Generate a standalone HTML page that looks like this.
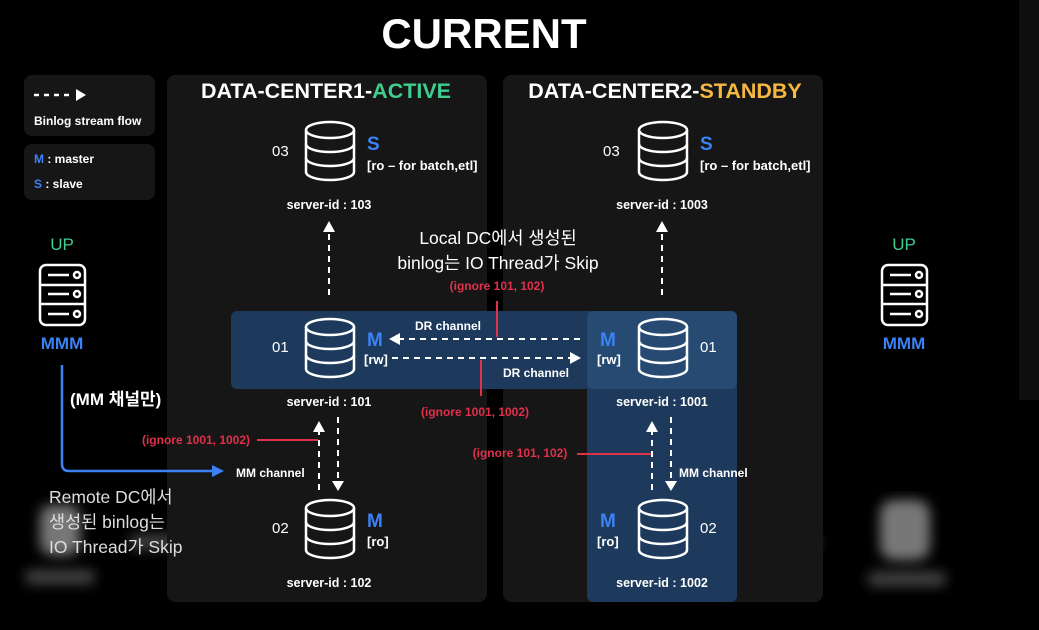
<!DOCTYPE html>
<html><head><meta charset="utf-8"><style>
html,body{margin:0;padding:0;background:#000;}
svg{display:block;font-family:"Liberation Sans","Noto Sans CJK KR",sans-serif;}
</style></head><body>
<svg width="1039" height="630" viewBox="0 0 1039 630" xmlns="http://www.w3.org/2000/svg">
<defs>
<g id="db" fill="none" stroke="#fff" stroke-width="2.5">
<ellipse cx="25" cy="9" rx="24" ry="8"/>
<path d="M1 9 V51 A24 8 0 0 0 49 51 V9"/>
<path d="M1 23 A24 8 0 0 0 49 23"/>
<path d="M1 37 A24 8 0 0 0 49 37"/>
</g>
<g id="srv" fill="none" stroke="#fff" stroke-width="2.5">
<rect x="1" y="1" width="45" height="60" rx="6"/>
<line x1="1" y1="21" x2="46" y2="21"/><line x1="1" y1="40" x2="46" y2="40"/>
<line x1="9" y1="11" x2="30" y2="11"/><circle cx="38" cy="11" r="3"/>
<line x1="9" y1="30" x2="30" y2="30"/><circle cx="38" cy="30" r="3"/>
<line x1="9" y1="50" x2="30" y2="50"/><circle cx="38" cy="50" r="3"/>
</g>
<filter id="bl"><feGaussianBlur stdDeviation="6"/></filter>
</defs>
<rect width="1039" height="630" fill="#000"/>
<rect x="1019" y="0" width="20" height="400" fill="#0e0e0e"/>
<g filter="url(#bl)" fill="#777">
<rect x="40" y="505" width="40" height="50" rx="12"/><rect x="25" y="570" width="70" height="14" rx="6" fill="#444"/>
<rect x="130" y="535" width="80" height="14" rx="6" fill="#444"/>
<rect x="880" y="500" width="50" height="60" rx="14"/><rect x="868" y="572" width="78" height="14" rx="6" fill="#444"/>
<rect x="750" y="536" width="70" height="14" rx="6" fill="#333"/>
</g>
<rect x="167" y="75" width="320" height="527" rx="8" fill="#161616"/>
<rect x="503" y="75" width="320" height="527" rx="8" fill="#161616"/>
<rect x="24" y="75" width="131" height="61" rx="8" fill="#161616"/>
<rect x="24" y="144" width="131" height="56" rx="8" fill="#161616"/>
<rect x="231" y="311" width="506" height="78" rx="6" fill="#1d3a5c"/>
<rect x="587" y="311" width="150" height="291" rx="6" fill="#1d3a5c"/>
<rect x="587" y="311" width="150" height="78" rx="6" fill="#264a72"/>
<text x="484" y="48" fill="#fff" font-size="42" font-weight="bold" text-anchor="middle">CURRENT</text>
<g stroke="#fff" stroke-width="2.5" stroke-dasharray="5,5"><line x1="34" y1="95" x2="74" y2="95"/></g>
<path d="M76 89 L86 95 L76 101Z" fill="#fff"/>
<text x="34" y="125" fill="#fff" font-size="12" font-weight="bold">Binlog stream flow</text>
<text x="34" y="163" font-size="12" font-weight="bold" fill="#fff"><tspan fill="#3b82f6">M</tspan> : master</text>
<text x="34" y="188" font-size="12" font-weight="bold" fill="#fff"><tspan fill="#3b82f6">S</tspan> : slave</text>
<text x="62" y="250" fill="#3ecf8e" font-size="17" text-anchor="middle">UP</text>
<use href="#srv" x="39" y="264"/>
<text x="62" y="349" fill="#3b82f6" font-size="17" font-weight="bold" text-anchor="middle">MMM</text>
<text x="904" y="250" fill="#3ecf8e" font-size="17" text-anchor="middle">UP</text>
<use href="#srv" x="881" y="264"/>
<text x="904" y="349" fill="#3b82f6" font-size="17" font-weight="bold" text-anchor="middle">MMM</text>
<path d="M62 365 V464 Q62 471 69 471 H214" fill="none" stroke="#3b82f6" stroke-width="2.5"/>
<path d="M212 465 L224 471 L212 477Z" fill="#3b82f6"/>
<text x="70" y="405" fill="#fff" font-size="17" font-weight="bold">(MM 채널만)</text>
<text x="49" y="503" fill="#ddd" font-size="17.5">Remote DC에서</text>
<text x="49" y="528" fill="#ddd" font-size="17.5">생성된 binlog는</text>
<text x="49" y="553" fill="#ddd" font-size="17.5">IO Thread가 Skip</text>
<text x="326" y="98" font-size="21.5" font-weight="bold" fill="#fff" text-anchor="middle">DATA-CENTER1-<tspan fill="#3ecf8e">ACTIVE</tspan></text>
<text x="665" y="98" font-size="21.5" font-weight="bold" fill="#fff" text-anchor="middle">DATA-CENTER2-<tspan fill="#f5b942">STANDBY</tspan></text>
<use href="#db" x="305" y="121"/><use href="#db" x="638" y="121"/>
<use href="#db" x="305" y="318"/><use href="#db" x="638" y="318"/>
<use href="#db" x="305" y="499"/><use href="#db" x="638" y="499"/>
<g fill="#fff" font-size="15">
<text x="272" y="156">03</text><text x="603" y="156">03</text>
<text x="272" y="352">01</text><text x="700" y="352">01</text>
<text x="272" y="533">02</text><text x="700" y="533">02</text>
</g>
<g fill="#3b82f6" font-size="19" font-weight="bold">
<text x="367" y="150">S</text><text x="700" y="150">S</text>
<text x="367" y="346">M</text><text x="600" y="346">M</text>
<text x="367" y="527">M</text><text x="600" y="527">M</text>
</g>
<g fill="#fff" font-size="13" font-weight="bold">
<text x="367" y="170">[ro – for batch,etl]</text><text x="700" y="170">[ro – for batch,etl]</text>
<text x="364" y="364">[rw]</text><text x="597" y="364">[rw]</text>
<text x="367" y="546">[ro]</text><text x="597" y="546">[ro]</text>
</g>
<g fill="#fff" font-size="12.5" font-weight="bold" text-anchor="middle">
<text x="329" y="209">server-id : 103</text><text x="662" y="209">server-id : 1003</text>
<text x="329" y="406">server-id : 101</text><text x="662" y="406">server-id : 1001</text>
<text x="329" y="587">server-id : 102</text><text x="662" y="587">server-id : 1002</text>
</g>
<g stroke="#fff" stroke-width="2" stroke-dasharray="6,5" fill="none">
<line x1="329" y1="295" x2="329" y2="232"/><line x1="662" y1="295" x2="662" y2="232"/>
<line x1="580" y1="339" x2="400" y2="339"/><line x1="392" y1="358" x2="570" y2="358"/>
<line x1="319" y1="490" x2="319" y2="432"/><line x1="338" y1="417" x2="338" y2="480"/>
<line x1="652" y1="490" x2="652" y2="432"/><line x1="671" y1="417" x2="671" y2="480"/>
</g>
<g fill="#fff">
<path d="M323 232 L329 221 L335 232Z"/><path d="M656 232 L662 221 L668 232Z"/>
<path d="M400 333 L389 339 L400 345Z"/><path d="M570 352 L581 358 L570 364Z"/>
<path d="M313 432 L319 421 L325 432Z"/><path d="M332 481 L338 491 L344 481Z"/>
<path d="M646 432 L652 421 L658 432Z"/><path d="M665 481 L671 491 L677 481Z"/>
</g>
<g fill="#fff" font-size="12" font-weight="bold">
<text x="415" y="330">DR channel</text><text x="503" y="377">DR channel</text>
<text x="236" y="477">MM channel</text><text x="679" y="477">MM channel</text>
</g>
<text x="498" y="244" fill="#fff" font-size="17.5" text-anchor="middle">Local DC에서 생성된</text>
<text x="498" y="269" fill="#fff" font-size="17.5" text-anchor="middle">binlog는 IO Thread가 Skip</text>
<g stroke="#e0314b" stroke-width="2">
<line x1="497" y1="301" x2="497" y2="337"/><line x1="481" y1="360" x2="481" y2="396"/>
<line x1="257" y1="440" x2="318" y2="440"/><line x1="577" y1="454" x2="651" y2="454"/>
</g>
<g fill="#e0314b" font-size="12" font-weight="bold">
<text x="497" y="290" text-anchor="middle">(ignore 101, 102)</text>
<text x="475" y="416" text-anchor="middle">(ignore 1001, 1002)</text>
<text x="196" y="444" text-anchor="middle">(ignore 1001, 1002)</text>
<text x="520" y="457" text-anchor="middle">(ignore 101, 102)</text>
</g>
</svg>
</body></html>
